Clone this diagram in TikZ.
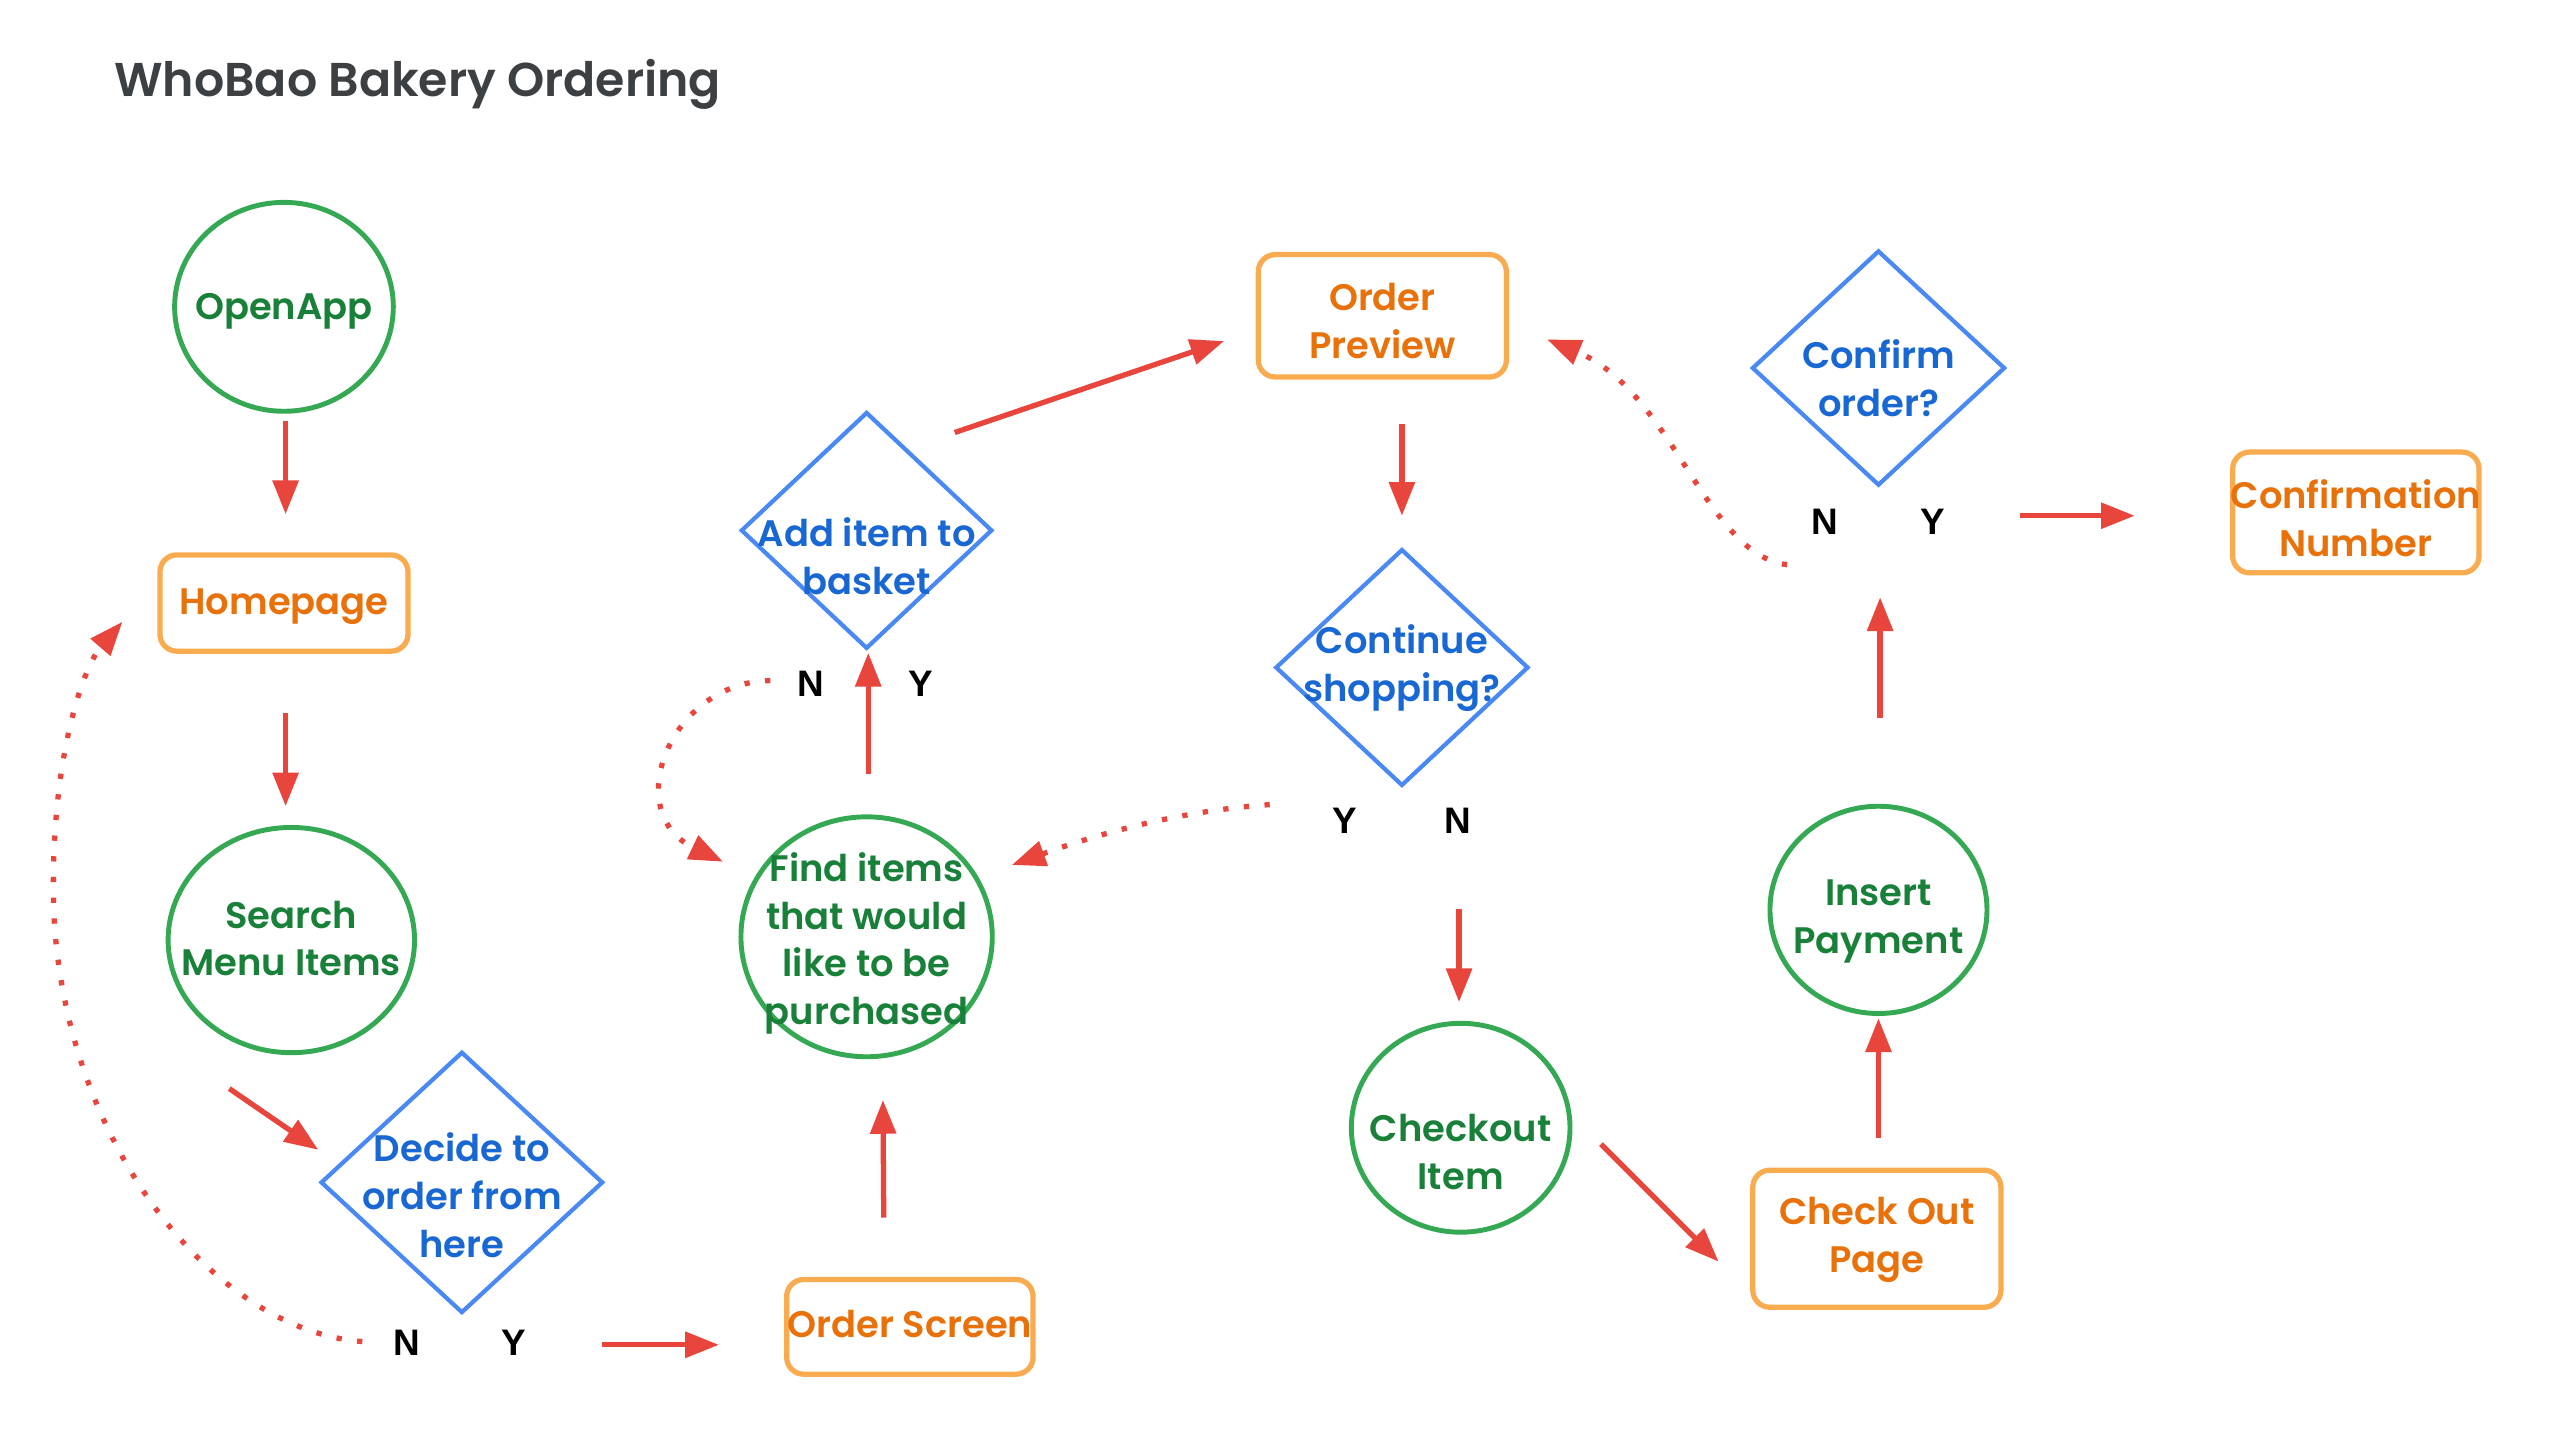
\documentclass[tikz,border=0pt]{standalone}
\usepackage{fontspec}
\IfFontExistsTF{Poppins SemiBold}{\setmainfont{Poppins}[BoldFont={Poppins SemiBold}]}{\setmainfont{Poppins}}
\newfontfamily\labfont{Liberation Sans}
\usetikzlibrary{shapes.geometric, arrows.meta}
\definecolor{gborder}{HTML}{34A853}
\definecolor{gtext}{HTML}{188038}
\definecolor{oborder}{HTML}{F9AB4F}
\definecolor{otext}{HTML}{E8710A}
\definecolor{bborder}{HTML}{4A89F3}
\definecolor{btext}{HTML}{1967D2}
\definecolor{arrred}{HTML}{E8453C}
\definecolor{titlec}{HTML}{3C4043}
\def\pxu{0.01632cm}
\begin{document}
\begin{tikzpicture}[x=0.01632cm, y=-0.01632cm,
  every node/.style={inner sep=0pt, outer sep=0pt},
  txt/.style={font=\bfseries\fontsize{10.5}{13.6}\selectfont, align=center},
  gtxt/.style={txt, text=gtext},
  otxt/.style={txt, text=otext},
  btxt/.style={txt, text=btext},
  circ/.style={ellipse, draw=gborder, line width=1.4pt},
  box/.style={rectangle, rounded corners=0.17cm, draw=oborder, line width=1.5pt},
  dia/.style={diamond, draw=bborder, line width=1.2pt},
  yn/.style={font=\labfont\bfseries\fontsize{10.5}{12}\selectfont},
  arr/.style={draw=arrred, line width=1.5pt, -{Triangle[length=9.6pt,width=7.2pt]}},
  dotarr/.style={draw=arrred, line width=1.5pt, dash pattern=on 1.5pt off 4.4pt, -{Triangle[length=9.6pt,width=7.2pt]}},
]
\fill[white] (0,0) rectangle (1568.6,879.9);
\useasboundingbox (0,0) rectangle (1568.6,879.9);

\node[anchor=base west, font=\bfseries\fontsize{13.5}{16}\selectfont, text=titlec] (title) at (70,59) {WhoBao Bakery Ordering};

% shapes
\node[circ, minimum width=134*\pxu, minimum height=128*\pxu, label={[gtxt, yshift=-3*\pxu]center:OpenApp}] (openapp) at (174,188) {};
\node[box, minimum width=152*\pxu, minimum height=59*\pxu, label={[otxt, yshift=-2*\pxu]center:Homepage}] (homepage) at (174,369.5) {};
\node[circ, minimum width=151*\pxu, minimum height=138*\pxu, label={[gtxt, yshift=1*\pxu]center:Search\\Menu Items}] (search) at (178.5,576) {};
\node[dia, minimum width=172*\pxu, minimum height=159*\pxu, label={[btxt, yshift=-8*\pxu]center:Decide to\\order from\\here}] (decide) at (283,724.5) {};
\node[box, minimum width=151*\pxu, minimum height=58*\pxu, label={[otxt, yshift=2*\pxu]center:Order Screen}] (oscreen) at (557.5,813) {};
\node[circ, minimum width=154*\pxu, minimum height=147*\pxu, label={[gtxt, yshift=-4*\pxu]center:Find items\\that would\\like to be\\purchased}] (find) at (531,574) {};
\node[dia, minimum width=153*\pxu, minimum height=144*\pxu, label={[btxt, yshift=-16*\pxu]center:Add item to\\basket}] (additem) at (531,325) {};
\node[box, minimum width=152*\pxu, minimum height=75*\pxu, label={[otxt, yshift=-3*\pxu]center:Order\\Preview}] (preview) at (847,193.5) {};
\node[dia, minimum width=154*\pxu, minimum height=144*\pxu, label={[btxt, yshift=-0.5*\pxu]center:Continue\\shopping?}] (cont) at (859,409) {};
\node[circ, minimum width=134*\pxu, minimum height=128*\pxu, label={[gtxt, yshift=-15*\pxu]center:Checkout\\Item}] (checkout) at (895,691) {};
\node[box, minimum width=152*\pxu, minimum height=84*\pxu, label={[otxt, yshift=-0.5*\pxu]center:Check Out\\Page}] (cop) at (1150,759) {};
\node[circ, minimum width=133*\pxu, minimum height=127*\pxu, label={[gtxt, yshift=-7*\pxu]center:Insert\\Payment}] (insert) at (1151,557.5) {};
\node[dia, minimum width=154*\pxu, minimum height=143*\pxu, label={[btxt, yshift=-6*\pxu]center:Confirm\\order?}] (confirm) at (1151,225.5) {};
\node[box, minimum width=151*\pxu, minimum height=74*\pxu, label={[otxt, yshift=-3.5*\pxu]center:Confirmation\\Number}] (confnum) at (1443.5,314) {};

% Y / N labels
\node[yn] (ndec) at (249,823) {N};
\node[yn] (ydec) at (315,823) {Y};
\node[yn] (nadd) at (497,419) {N};
\node[yn] (yadd) at (564,419) {Y};
\node[yn] (ycont) at (824,503) {Y};
\node[yn] (ncont) at (893,503) {N};
\node[yn] (nconf) at (1118,320) {N};
\node[yn] (yconf) at (1184,320) {Y};

% solid arrows
\draw[arr] ([shift={(1,6)}]openapp.south) -- ([shift={(1,-25)}]homepage.north);
\draw[arr] ([shift={(1,38)}]homepage.south) -- ([shift={(-3.5,-13)}]search.north);
\draw[arr] ([shift={(-38,91)}]search.center) -- ([shift={(-88,-20)}]decide.center);
\draw[arr] ([shift={(54,1)}]ydec.center) -- ([shift={(-117,11)}]oscreen.center);
\draw[arr] ([shift={(-16,-67)}]oscreen.center) -- ([shift={(10,100)}]find.center);
\draw[arr] ([shift={(1,-100)}]find.center) -- ([shift={(1,75)}]additem.center);
\draw[arr] ([shift={(54,-60)}]additem.center) -- ([shift={(-97,15.5)}]preview.center);
\draw[arr] ([shift={(12,66.5)}]preview.center) -- ([shift={(0,-93)}]cont.center);
\draw[arr] ([shift={(1,54)}]ncont.center) -- ([shift={(-1,-77)}]checkout.center);
\draw[arr] ([shift={(86,10)}]checkout.center) -- ([shift={(-97,14)}]cop.center);
\draw[arr] ([shift={(1,-62)}]cop.center) -- ([shift={(0,66.5)}]insert.center);
\draw[arr] ([shift={(1,-117.5)}]insert.center) -- ([shift={(1,140.5)}]confirm.center);
\draw[arr] ([shift={(54,-4)}]yconf.center) -- ([shift={(-135.5,2)}]confnum.center);

% dotted arrows
\draw[dotarr] ([shift={(-27,-1)}]ndec.center) .. controls (130,815) and (40,700) .. (33,560) .. controls (30,470) and (50,410) .. ([shift={(-99,11.5)}]homepage.center);
\draw[dotarr] ([shift={(-25,-2)}]nadd.center) .. controls (410,418) and (380,498) .. ([shift={(-88,-46)}]find.center);
\draw[dotarr] ([shift={(-46,-10)}]ycont.center) .. controls (720,497) and (670,512) .. ([shift={(89,-44)}]find.center);
\draw[dotarr] ([shift={(-23,26)}]nconf.center) .. controls (1045,340) and (1025,240) .. ([shift={(101,14.5)}]preview.center);
\end{tikzpicture}
\end{document}
